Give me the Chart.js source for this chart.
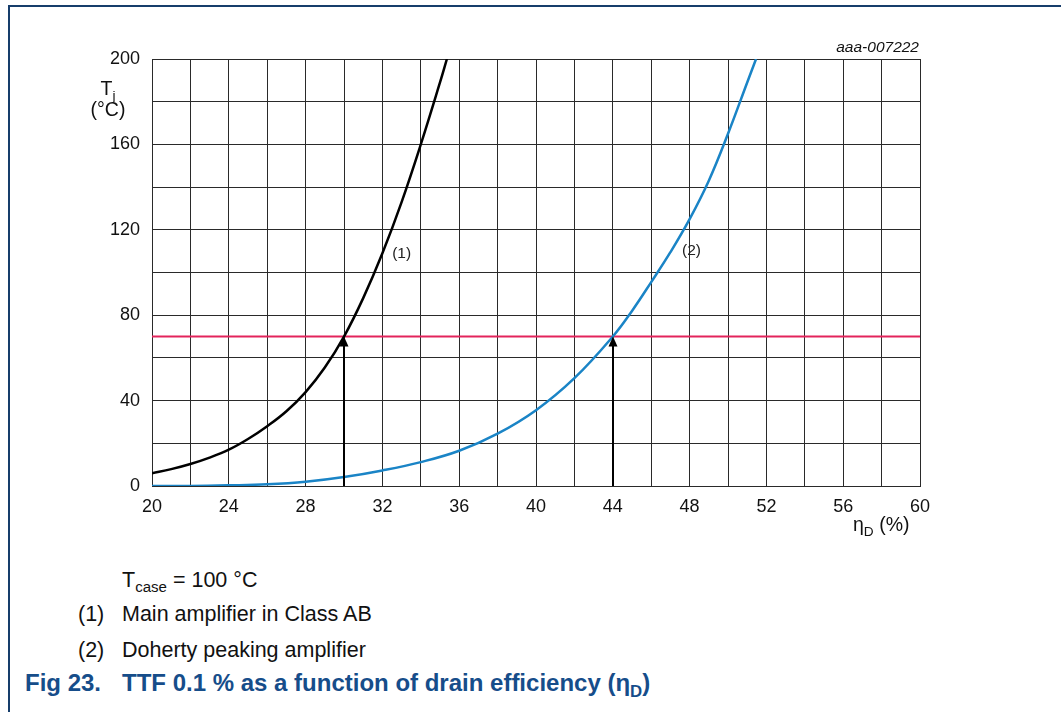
<!DOCTYPE html>
<html>
<head>
<meta charset="utf-8">
<script src="https://cdn.jsdelivr.net/npm/chart.js@4.4.1/dist/chart.umd.min.js"></script>
<style>
	html, body { margin: 0; padding: 0; background: #fff; }
	body { width: 1061px; height: 712px; position: relative; overflow: hidden;
		font-family: "Liberation Sans", Arial, sans-serif; color: #111; }
	#chartBox { position: absolute; left: 0; top: 0; width: 1061px; height: 560px; }
	.frameTop { position: absolute; left: 8px; top: 5px; width: 1053px; height: 2px; background: #163d6b; }
	.frameLeft { position: absolute; left: 8px; top: 5px; width: 2px; height: 707px; background: #163d6b; }
	.txt { position: absolute; white-space: nowrap; }
	sub { font-size: 70%; vertical-align: -0.35em; line-height: 0; }
	.note { font-size: 21.5px; line-height: 24px; }
	.caption { font-size: 24px; line-height: 26px; font-weight: bold; color: #164d8a; }
</style>
</head>
<body>
<div class="frameTop"></div>
<div class="frameLeft"></div>
<div id="chartBox"><canvas id="ttfChart"></canvas></div>

<!-- 축 제목, 도면 번호 -->
<div class="txt" style="left:83px; top:78px; width:50px; text-align:center; font-size:19.5px; line-height:21px;">T<sub>j</sub><br>(°C)</div>
<div class="txt" style="left:853px; top:513px; font-size:19.5px;">η<sub>D</sub> (%)</div>
<div class="txt" style="left:760px; top:38px; width:159px; text-align:right; font-size:15.5px; font-style:italic;">aaa-007222</div>

<!-- 범례 및 그림 설명 -->
<div class="txt note" style="left:122px; top:568px;">T<sub>case</sub> = 100 °C</div>
<div class="txt note" style="left:78px; top:602px;">(1)</div>
<div class="txt note" style="left:122px; top:602px;">Main amplifier in Class AB</div>
<div class="txt note" style="left:78px; top:638px;">(2)</div>
<div class="txt note" style="left:122px; top:638px;">Doherty peaking amplifier</div>
<div class="txt caption" style="left:25px; top:670px;">Fig 23.</div>
<div class="txt caption" style="left:122px; top:670px;">TTF 0.1 % as a function of drain efficiency (η<sub>D</sub>)</div>

<script>
// (1) Class AB 메인 앰프: 효율(%) / 접합 온도(°C)
const effMain = [20, 21, 22, 23, 24, 25, 26, 27, 28, 29, 30, 31, 32, 33, 34, 35, 35.36];
const tjMain = [6, 7.9, 10.3, 13.3, 17, 22, 28, 35, 44, 55.5, 70, 88, 109, 133, 160, 189, 200];

// (2) Doherty 피킹 앰프
const effPeak = [20, 22, 24, 26, 28, 30, 32, 34, 36, 38, 40, 42, 44, 45, 46, 47, 48, 49, 50, 51, 51.46];
const tjPeak = [0, 0, 0.3, 0.8, 2, 4.2, 7.3, 11.2, 16.5, 24.5, 35.5, 50.5, 70, 82, 95.5, 109.5, 125, 143, 165, 189, 200];

// Tj 한계선과 화살표 위치
const tjLimit = 70;
const arrowAt = [30, 44];

// 곡선 번호 라벨
const curveLabels = ['(1)', '(2)'];
const curveLabelPos = [[33.0, 109], [48.1, 110]];

// 축 범위
const xMin = 20, xMax = 60, xGridStep = 2, xLabelStep = 4;
const yMin = 0, yMax = 200, yGridStep = 20, yLabelStep = 40;

const toPoints = (xs, ys) => xs.map((x, i) => ({ x: x, y: ys[i] }));

// 화살표와 곡선 번호는 스케일 좌표로 직접 그림
const markPlugin = {
	id: 'marks',
	afterDatasetsDraw(chart) {
		const ctx = chart.ctx;
		const xs = chart.scales.x;
		const ys = chart.scales.y;
		ctx.save();
		ctx.fillStyle = '#000';
		ctx.strokeStyle = '#000';
		ctx.lineWidth = 2;
		arrowAt.forEach(v => {
			const px = Math.round(xs.getPixelForValue(v));
			const tip = ys.getPixelForValue(tjLimit);
			const base = ys.getPixelForValue(yMin);
			ctx.beginPath();
			ctx.moveTo(px, base);
			ctx.lineTo(px, tip + 8);
			ctx.stroke();
			ctx.beginPath();
			ctx.moveTo(px, tip);
			ctx.lineTo(px - 4.5, tip + 10);
			ctx.lineTo(px + 4.5, tip + 10);
			ctx.closePath();
			ctx.fill();
		});
		ctx.font = '15.5px "Liberation Sans", Arial, sans-serif';
		ctx.fillStyle = '#222';
		ctx.textAlign = 'center';
		ctx.textBaseline = 'middle';
		curveLabels.forEach((t, i) => {
			const p = curveLabelPos[i];
			ctx.fillText(t, xs.getPixelForValue(p[0]), ys.getPixelForValue(p[1]));
		});
		ctx.restore();
	}
};

const ctx = document.getElementById('ttfChart').getContext('2d');
const gridColor = '#2a2a2a';
const tickFont = { family: '"Liberation Sans", Arial, sans-serif', size: 18 };

const ttfChart = new Chart(ctx, {
	type: 'line',
	data: {
		datasets: [
			{
				label: 'limit',
				data: toPoints([xMin, xMax], [tjLimit, tjLimit]),
				borderColor: '#e3245c',
				borderWidth: 2,
				pointRadius: 0,
				order: 3
			},
			{
				label: '(1)',
				data: toPoints(effMain, tjMain),
				borderColor: '#000',
				borderWidth: 2.5,
				pointRadius: 0,
				tension: 0.4,
				order: 2
			},
			{
				label: '(2)',
				data: toPoints(effPeak, tjPeak),
				borderColor: '#1a84c6',
				borderWidth: 2.5,
				pointRadius: 0,
				tension: 0.4,
				order: 1
			}
		]
	},
	options: {
		responsive: true,
		maintainAspectRatio: false,
		animation: false,
		events: [],
		layout: {
			padding: { left: 0, top: 59, right: 141, bottom: 34 }
		},
		plugins: {
			legend: { display: false },
			tooltip: { enabled: false }
		},
		scales: {
			x: {
				type: 'linear',
				min: xMin,
				max: xMax,
				afterFit: s => { s.height = 40; },
				grid: { color: gridColor, lineWidth: 1, drawTicks: false },
				border: { color: gridColor, width: 1 },
				ticks: {
					stepSize: xGridStep,
					autoSkip: false,
					maxRotation: 0,
					padding: 10,
					color: '#111',
					font: tickFont,
					callback: v => (v % xLabelStep === 0 ? String(v) : '')
				}
			},
			y: {
				type: 'linear',
				min: yMin,
				max: yMax,
				afterFit: s => { s.width = 152; },
				grid: { color: gridColor, lineWidth: 1, drawTicks: false },
				border: { color: gridColor, width: 1 },
				ticks: {
					stepSize: yGridStep,
					autoSkip: false,
					padding: 12,
					color: '#111',
					font: tickFont,
					callback: v => (v % yLabelStep === 0 ? String(v) : '')
				}
			}
		}
	},
	plugins: [markPlugin]
});
</script>
</body>
</html>
